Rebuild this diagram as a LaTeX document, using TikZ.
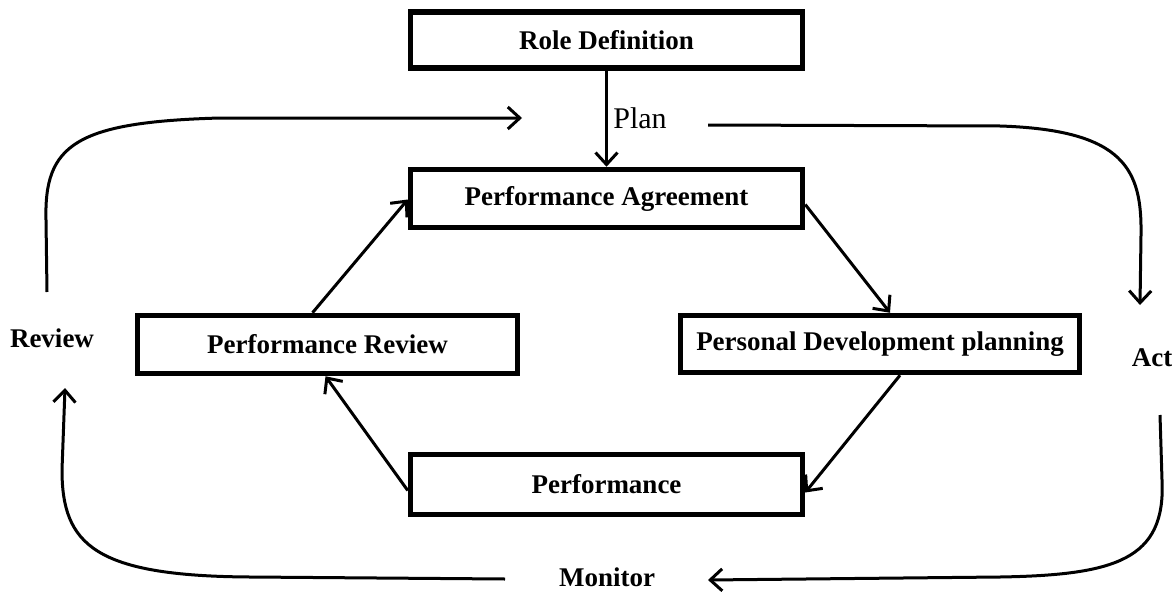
\documentclass[tikz,border=0pt]{standalone}
\usepackage{fontspec}
\setmainfont{Liberation Serif}
\usetikzlibrary{arrows.meta}
\begin{document}
\begin{tikzpicture}[x=1pt,y=-1pt,
  box/.style={draw,line width=5.5pt,inner sep=0pt,font=\fontsize{27}{32}\selectfont\bfseries},
  lbl/.style={inner sep=0pt,font=\fontsize{27}{32}\selectfont\bfseries},
  arr/.style={line width=3pt,-{Straight Barb[length=12pt,width=22pt,line width=3pt]}},
  ln/.style={line width=3pt}]
\useasboundingbox (0,0) rectangle (1172,594);
% boxes
\node[box,minimum width=392pt,minimum height=56pt] (role) at (606.5,40) {Role Definition};
\node[box,minimum width=392pt,minimum height=58pt] (pa) at (606.5,198.5) {Performance Agreement};
\node[box,minimum width=399pt,minimum height=57pt] (pdp) at (880,344) {Personal Development planning};
\node[box,minimum width=380pt,minimum height=58pt] (pr) at (327.5,344.5) {Performance Review};
\node[box,minimum width=392pt,minimum height=60pt] (perf) at (606.5,484.5) {Performance};
% labels
\node[inner sep=0pt,font=\fontsize{30}{34}\selectfont] (plan) at (640,118) {Plan};
\node[lbl] (review) at (52,338) {Review};
\node[lbl] (act) at (1152,358) {Act};
\node[lbl] (monitor) at (607,577) {Monitor};
% inner cycle
\draw[arr] (role) -- (pa);
\draw[arr] ([xshift=-15pt]pr.north) -- ([yshift=-1pt]pa.west);
\draw[arr] ([yshift=-6pt]pa.east) -- ([xshift=10pt]pdp.north);
\draw[arr] ([xshift=20pt]pdp.south) -- ([yshift=-8pt]perf.east);
\draw[arr] ([yshift=-6pt]perf.west) -- ([xshift=-2pt]pr.south);
% outer cycle
\coordinate (tl0) at (47,292);
\coordinate (tl1) at (522,118);
\coordinate (tr0) at (708,125);
\coordinate (tr1) at (1140,305);
\coordinate (br0) at (1160,415);
\coordinate (br1) at (708,580);
\coordinate (bl0) at (505,579);
\coordinate (bl1) at (65,388);
\draw[arr] (tl0) -- (46,220) .. controls (44,145) and (75,122) .. (220,118) -- (tl1);
\draw[arr] (tr0) -- (1000,126) .. controls (1125,130) and (1142,170) .. (1141,235) -- (tr1);
\draw[arr] (br0) -- (1162,480) .. controls (1166,560) and (1115,575) .. (1000,577) -- (br1);
\draw[arr] (bl0) -- (250,577) .. controls (95,576) and (62,545) .. (62,470) -- (bl1);
\end{tikzpicture}
\end{document}
